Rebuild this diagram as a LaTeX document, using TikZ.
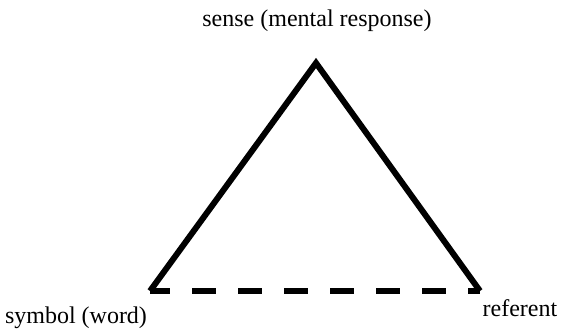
\documentclass[tikz,border=0pt]{standalone}
\usepackage{fontspec}
\setmainfont{Liberation Serif}
\usepackage{tikz}

\begin{document}
\begin{tikzpicture}[x=1pt, y=1pt,
    lbl/.style={font=\fontsize{24}{28}\selectfont, inner sep=0pt},
    side/.style={line width=6pt, line join=miter},
    base/.style={line width=6pt, dash pattern=on 24pt off 22pt, dash phase=4pt}]
  \useasboundingbox (0,0) rectangle (576,335);
  \coordinate (sense) at (316,272);
  \coordinate (symbol) at (150,44);
  \coordinate (referent) at (480,44);
  \node[lbl, anchor=base] (senselbl) at (317,308) {sense (mental response)};
  \node[lbl, anchor=base] (symbollbl) at (76,12) {symbol (word)};
  \node[lbl, anchor=base] (referentlbl) at (520,19) {referent};

  \draw[side] (symbol) -- (sense) -- (referent);
  \draw[base] (symbol) -- (referent);
\end{tikzpicture}
\end{document}
